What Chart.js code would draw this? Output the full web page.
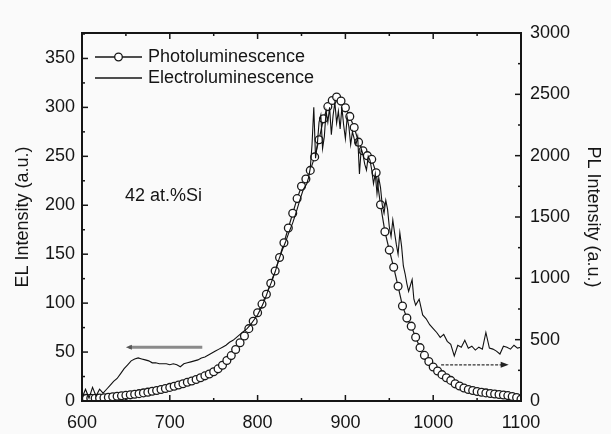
<!DOCTYPE html>
<html>
<head>
<meta charset="utf-8">
<script src="https://cdn.jsdelivr.net/npm/chart.js@4.4.1/dist/chart.umd.min.js"></script>
<style>
  html, body { margin: 0; padding: 0; background: #fafafa; }
  #wrap { width: 611px; height: 434px; }
</style>
</head>
<body>
<div id="wrap"><canvas id="c" width="611" height="434"></canvas></div>
<script>
// ---------- data ----------
const elWavelength = [600,604,608,612,616,620,624,628,632,636,640,644,648,652,656,660,664,668,672,676,680,684,688,692,696,700,704,708,712,716,720,724,728,732,736,740,744,748,752,756,760,764,768,772,776,780,784,788,792,796,800,804,808,812,816,820,824,828,832,836,840,844,848,852,856,
  858,860,862,864,866,868,870,872,874,876,878,880,882,884,886,888,890,892,894,896,898,900,902,904,906,908,910,912,914,916,918,920,922,924,926,928,930,932,934,936,938,940,942,944,946,948,950,952,954,956,958,960,962,964,966,968,970,972,974,976,978,980,
  984,988,992,996,1000,1004,1008,1012,1016,1020,1024,1028,1032,1036,1040,1044,1048,1052,1056,1060,1064,1068,1072,1076,1080,1084,1088,1092,1096,1100];
const elIntensity = [3,12,3,14,5,12,8,12,16,20,23,28,33,37,41,43,44,43,42,41,39,39,38,38,38,37,38,37,35,38,39,40,41,42,44,45,47,49,51,53,55,57,60,62,65,68,71,74,78,83,88,95,103,113,122,132,144,154,163,173,182,193,205,216,222,
  228,238,262,300,248,262,285,292,258,270,296,285,300,272,292,305,284,296,278,300,282,268,290,280,262,275,268,262,270,232,258,252,242,236,250,246,236,222,232,212,228,218,200,192,205,196,178,168,185,172,160,150,172,158,138,130,120,112,118,124,104,98,
  104,88,84,78,74,70,65,68,61,58,46,57,55,62,54,56,52,55,53,70,54,53,51,48,56,55,53,57,54,55];

const plWavelength = [600,605,610,615,620,625,630,635,640,645,650,655,660,665,670,675,680,685,690,695,700,705,710,715,720,725,730,735,740,745,750,755,760,765,770,775,780,785,790,795,800,805,810,815,820,825,830,835,840,845,850,855,860,865,870,875,880,885,890,895,900,905,910,915,920,925,930,935,940,945,950,955,960,965,970,975,980,985,990,995,1000,1005,1010,1015,1020,1025,1030,1035,1040,1045,1050,1055,1060,1065,1070,1075,1080,1085,1090,1095,1100];
const plIntensity = [20,21,22,23,25,27,30,34,38,42,46,50,55,60,66,72,79,86,94,102,111,120,130,141,153,163,175,190,205,220,238,262,292,330,370,420,475,530,590,650,720,790,870,960,1060,1170,1290,1410,1530,1650,1750,1810,1880,1990,2130,2300,2400,2450,2478,2445,2390,2320,2230,2110,2040,2000,1970,1860,1600,1380,1230,1090,935,775,676,610,520,435,372,322,277,245,215,190,168,140,122,106,94,85,78,71,66,61,57,53,49,44,37,28,15];

const xTickMin = 600, xTickMax = 1100, xStep = 50, xLabelEvery = 100;
const elTickMax = 376, elStep = 25, elLabelEvery = 50;
const plTickMax = 3000, plStep = 250, plLabelEvery = 500;

const seriesNames = ['Photoluminescence', 'Electroluminescence'];
const axisTitles = { y: 'EL Intensity (a.u.)', y2: 'PL Intensity (a.u.)' };
const noteText = '42 at.%Si';
const notePos = [649, 209];                  // [wavelength, EL]
const leftArrow = [[737, 55], [650, 55]];    // EL scale, points left
const rightArrow = [[1009, 37], [1086, 37]]; // EL scale, points right

// ---------- chart ----------
const FONT = '"Liberation Sans", Arial, sans-serif';
const INK = '#151515';

const elData = elWavelength.map((x, i) => ({ x, y: elIntensity[i] }));
const plData = plWavelength.map((x, i) => ({ x, y: plIntensity[i] }));

const bgPlugin = {
  id: 'bg',
  beforeDraw(chart) {
    const ctx = chart.ctx;
    ctx.save();
    ctx.fillStyle = '#fafafa';
    ctx.fillRect(0, 0, chart.width, chart.height);
    ctx.restore();
  }
};

const framePlugin = {
  id: 'frame',
  afterDatasetsDraw(chart) {
    const { ctx, chartArea: a, scales } = chart;
    ctx.save();
    ctx.strokeStyle = INK;
    ctx.lineWidth = 1.5;
    const drawTicks = (scale, side) => {
      scale.ticks.forEach((t, i) => {
        const p = scale.getPixelForTick(i);
        const major = t.label !== '' && t.label !== undefined;
        const len = major ? 6 : 3;
        ctx.beginPath();
        if (side === 'bottom') { ctx.moveTo(p, a.bottom); ctx.lineTo(p, a.bottom - len); }
        if (side === 'top') { ctx.moveTo(p, a.top); ctx.lineTo(p, a.top + len); }
        if (side === 'left') { ctx.moveTo(a.left, p); ctx.lineTo(a.left + len, p); }
        if (side === 'right') { ctx.moveTo(a.right, p); ctx.lineTo(a.right - len, p); }
        ctx.stroke();
      });
    };
    drawTicks(scales.x, 'bottom');
    drawTicks(scales.x, 'top');
    drawTicks(scales.y, 'left');
    drawTicks(scales.y2, 'right');
    ctx.lineWidth = 2;
    ctx.strokeRect(a.left, a.top, a.right - a.left, a.bottom - a.top);
    ctx.restore();
  }
};

const annotPlugin = {
  id: 'annot',
  afterDatasetsDraw(chart) {
    const { ctx, chartArea: a, scales } = chart;
    const X = scales.x, Y = scales.y;
    ctx.save();
    ctx.fillStyle = INK;
    ctx.font = '18px ' + FONT;
    ctx.textBaseline = 'middle';
    ctx.textAlign = 'left';
    ctx.fillText(noteText, X.getPixelForValue(notePos[0]), Y.getPixelForValue(notePos[1]));

    // left gray arrow
    let x1 = X.getPixelForValue(leftArrow[0][0]), y1 = Y.getPixelForValue(leftArrow[0][1]);
    let x2 = X.getPixelForValue(leftArrow[1][0]), y2 = Y.getPixelForValue(leftArrow[1][1]);
    ctx.strokeStyle = '#8a8a8a';
    ctx.lineWidth = 3;
    ctx.beginPath(); ctx.moveTo(x1, y1); ctx.lineTo(x2 + 3, y2); ctx.stroke();
    ctx.fillStyle = '#555';
    ctx.beginPath(); ctx.moveTo(x2, y2); ctx.lineTo(x2 + 6, y2 - 2.5); ctx.lineTo(x2 + 6, y2 + 2.5); ctx.closePath(); ctx.fill();

    // right dashed arrow
    x1 = X.getPixelForValue(rightArrow[0][0]); y1 = Y.getPixelForValue(rightArrow[0][1]);
    x2 = X.getPixelForValue(rightArrow[1][0]); y2 = Y.getPixelForValue(rightArrow[1][1]);
    ctx.strokeStyle = '#333';
    ctx.lineWidth = 1.2;
    ctx.setLineDash([3, 1.5]);
    ctx.beginPath(); ctx.moveTo(x1, y1); ctx.lineTo(x2 - 5, y2); ctx.stroke();
    ctx.setLineDash([]);
    ctx.fillStyle = '#222';
    ctx.beginPath(); ctx.moveTo(x2, y2); ctx.lineTo(x2 - 8, y2 - 3); ctx.lineTo(x2 - 8, y2 + 3); ctx.closePath(); ctx.fill();

    // legend
    const lx0 = a.left + 13, lx1 = a.left + 60, tx = a.left + 66;
    const ly = [a.top + 24, a.top + 45];
    ctx.strokeStyle = INK;
    ctx.lineWidth = 1.3;
    ly.forEach((yy, i) => {
      ctx.beginPath(); ctx.moveTo(lx0, yy); ctx.lineTo(lx1, yy); ctx.stroke();
      if (i === 0) {
        ctx.beginPath(); ctx.arc((lx0 + lx1) / 2, yy, 3.8, 0, Math.PI * 2);
        ctx.fillStyle = '#fff'; ctx.fill(); ctx.stroke();
      }
      ctx.fillStyle = INK;
      ctx.fillText(seriesNames[i], tx, yy);
    });
    ctx.restore();
  }
};

new Chart(document.getElementById('c'), {
  type: 'line',
  data: {
    datasets: [
      {
        label: seriesNames[1],
        data: elData,
        yAxisID: 'y',
        borderColor: '#111',
        borderWidth: 1.1,
        pointRadius: 0,
        tension: 0,
        order: 0
      },
      {
        label: seriesNames[0],
        data: plData,
        yAxisID: 'y2',
        borderColor: '#1a1a1a',
        borderWidth: 1.2,
        pointRadius: 3.9,
        pointBorderWidth: 1.3,
        pointBackgroundColor: '#ffffff',
        pointBorderColor: '#1a1a1a',
        tension: 0,
        order: 1
      }
    ]
  },
  options: {
    responsive: false,
    animation: false,
    devicePixelRatio: 1,
    layout: { padding: { top: 33, left: 0, right: 0, bottom: 0 } },
    plugins: { legend: { display: false }, tooltip: { enabled: false } },
    scales: {
      x: {
        type: 'linear',
        position: 'bottom',
        min: xTickMin, max: xTickMax,
        grid: { display: false, drawTicks: false },
        border: { display: false },
        ticks: {
          stepSize: xStep,
          autoSkip: false,
          maxRotation: 0,
          padding: 11,
          color: INK,
          font: { family: FONT, size: 18 },
          callback: v => (v % xLabelEvery === 0 ? String(v) : '')
        },
        afterFit: s => { s.height = 33; }
      },
      y: {
        type: 'linear',
        position: 'left',
        min: 0, max: elTickMax,
        grid: { display: false, drawTicks: false },
        border: { display: false },
        title: { display: true, text: axisTitles.y, color: INK, font: { family: FONT, size: 18 }, padding: { top: 12, bottom: 0 } },
        ticks: {
          stepSize: elStep,
          includeBounds: false,
          autoSkip: false,
          padding: 7,
          color: INK,
          font: { family: FONT, size: 18 },
          callback: v => (v % elLabelEvery === 0 ? String(v) : '')
        },
        afterFit: s => { s.width = 82; }
      },
      y2: {
        type: 'linear',
        position: 'right',
        min: 0, max: plTickMax,
        grid: { display: false, drawTicks: false },
        border: { display: false },
        title: { display: true, text: axisTitles.y2, color: INK, font: { family: FONT, size: 18 }, padding: { top: 7, bottom: 0 } },
        ticks: {
          stepSize: plStep,
          autoSkip: false,
          padding: 9,
          color: INK,
          font: { family: FONT, size: 18 },
          callback: v => (v % plLabelEvery === 0 ? String(v) : '')
        },
        afterFit: s => { s.width = 90; }
      }
    }
  },
  plugins: [bgPlugin, framePlugin, annotPlugin]
});
</script>
</body>
</html>
